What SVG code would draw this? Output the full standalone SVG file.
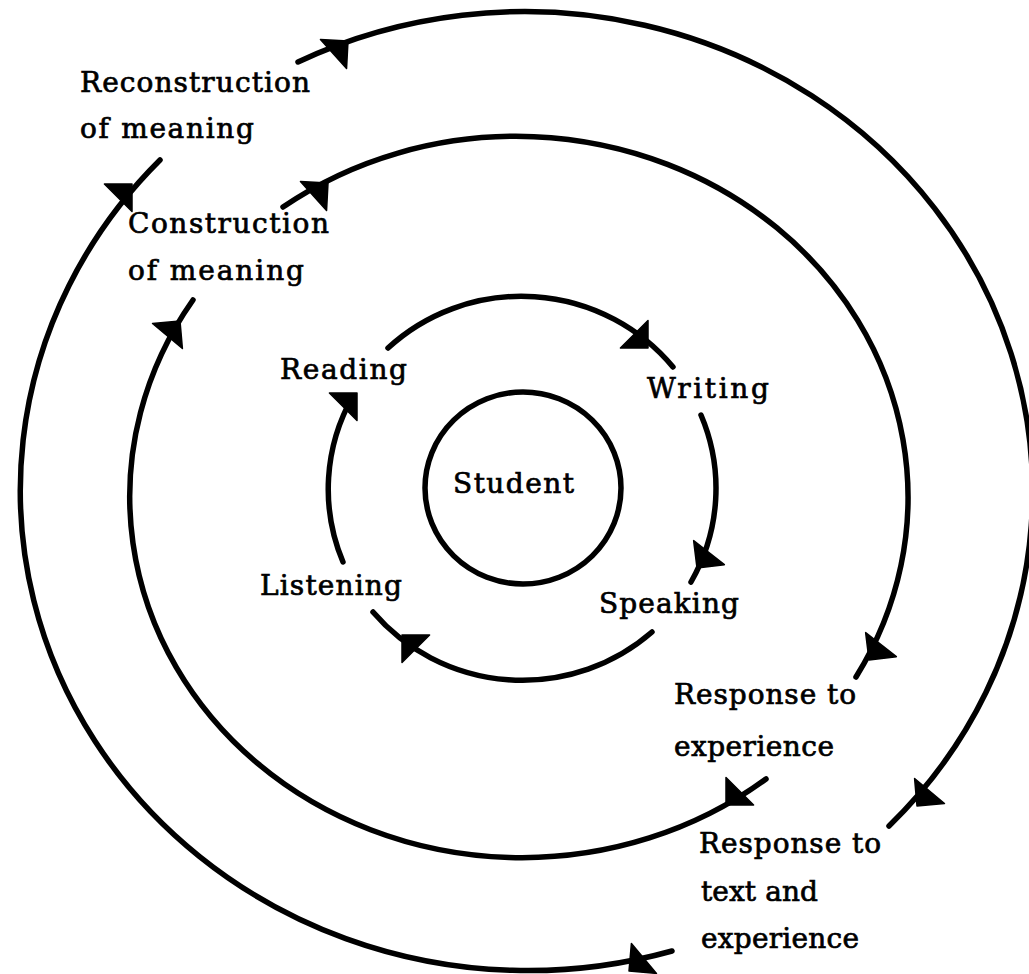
<svg xmlns="http://www.w3.org/2000/svg" xmlns:xlink="http://www.w3.org/1999/xlink" width="1029" height="974" viewBox="0 0 1029 974">
  <style>
    .ring { fill: none; stroke: #000; stroke-width: 5.5; stroke-linecap: round; }
    .lbl { font-family: "DejaVu Serif", "Liberation Serif", serif; font-size: 28px; fill: #000; stroke: #000; stroke-width: 0.7px; }
    .ah { fill: #000; stroke: #000; stroke-width: 1.5; stroke-linejoin: round; }
  </style>
  <defs>
    <path id="ah" d="M0,0 L-19.5,-19.5 L-19.5,19.5 Z"/>
  </defs>
  <rect width="1029" height="974" fill="#fff"/>

  <g id="connectors">
    <!-- inner ring -->
    <path class="ring" d="M388,348 A195,191 0 0 1 673,367"/>
    <path class="ring" d="M701,415 A195,191 0 0 1 691,582"/>
    <path class="ring" d="M652,632 A195,191 0 0 1 373,612"/>
    <path class="ring" d="M343,562 A195,191 0 0 1 353,396"/>
    <!-- middle ring -->
    <path class="ring" d="M283,207 A392,361 0 0 1 856,677"/>
    <path class="ring" d="M766,779 A392,361 0 0 1 193,300"/>
    <!-- outer ring -->
    <path class="ring" d="M298,62 A508,480 0 0 1 889,826"/>
    <path class="ring" d="M672,951 A508,480 0 0 1 160,160"/>
    <!-- arrowheads -->
    <use class="ah" xlink:href="#ah" href="#ah" transform="translate(648,348) rotate(45)"/>
    <use class="ah" xlink:href="#ah" href="#ah" transform="translate(697,568) rotate(128)"/>
    <use class="ah" xlink:href="#ah" href="#ah" transform="translate(402,635) rotate(225)"/>
    <use class="ah" xlink:href="#ah" href="#ah" transform="translate(357,393) rotate(-45)"/>
    <use class="ah" xlink:href="#ah" href="#ah" transform="translate(328,183) rotate(-42)"/>
    <use class="ah" xlink:href="#ah" href="#ah" transform="translate(180,321) rotate(-50)"/>
    <use class="ah" xlink:href="#ah" href="#ah" transform="translate(869,660) rotate(128)"/>
    <use class="ah" xlink:href="#ah" href="#ah" transform="translate(726,805) rotate(135)"/>
    <use class="ah" xlink:href="#ah" href="#ah" transform="translate(348,41) rotate(-42)"/>
    <use class="ah" xlink:href="#ah" href="#ah" transform="translate(132,184) rotate(-45)"/>
    <use class="ah" xlink:href="#ah" href="#ah" transform="translate(917,806) rotate(130)"/>
    <use class="ah" xlink:href="#ah" href="#ah" transform="translate(629,971) rotate(140)"/>
  </g>

  <g id="student">
    <ellipse class="ring" cx="523" cy="488" rx="98" ry="96"/>
    <text class="lbl" x="453" y="493" textLength="121" lengthAdjust="spacing">Student</text>
  </g>
  <g id="reading"><text class="lbl" x="280" y="379" textLength="127" lengthAdjust="spacing">Reading</text></g>
  <g id="writing"><text class="lbl" x="647" y="398" textLength="122" lengthAdjust="spacing">Writing</text></g>
  <g id="speaking"><text class="lbl" x="599" y="613" textLength="140" lengthAdjust="spacing">Speaking</text></g>
  <g id="listening"><text class="lbl" x="260" y="595" textLength="142" lengthAdjust="spacing">Listening</text></g>
  <g id="construction">
    <text class="lbl" x="128" y="233" textLength="201" lengthAdjust="spacing">Construction</text>
    <text class="lbl" x="128" y="280" textLength="176" lengthAdjust="spacing">of meaning</text>
  </g>
  <g id="reconstruction">
    <text class="lbl" x="80" y="92" textLength="230" lengthAdjust="spacing">Reconstruction</text>
    <text class="lbl" x="80" y="138" textLength="174" lengthAdjust="spacing">of meaning</text>
  </g>
  <g id="response-experience">
    <text class="lbl" x="674" y="704" textLength="182" lengthAdjust="spacing">Response to</text>
    <text class="lbl" x="674" y="756" textLength="160" lengthAdjust="spacing">experience</text>
  </g>
  <g id="response-text">
    <text class="lbl" x="699" y="853" textLength="182" lengthAdjust="spacing">Response to</text>
    <text class="lbl" x="701" y="901" textLength="117" lengthAdjust="spacing">text and</text>
    <text class="lbl" x="701" y="948" textLength="158" lengthAdjust="spacing">experience</text>
  </g>
</svg>
